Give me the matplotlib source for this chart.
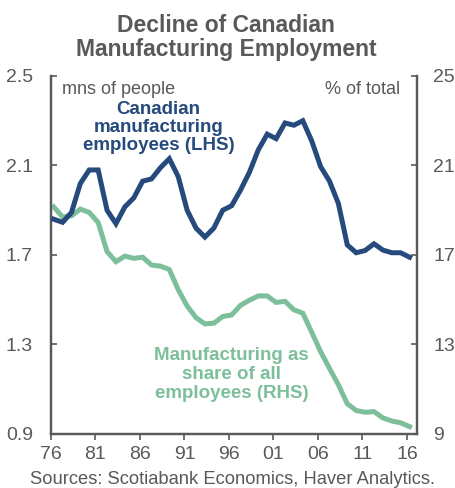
import numpy as np
import matplotlib.pyplot as plt

plt.rcParams['font.family'] = ['Liberation Sans', 'DejaVu Sans']

grey = '#595959'
navy = '#264a7c'
green = '#7dbf9b'

years = np.arange(1976, 2017)

# Canadian manufacturing employees, millions (LHS)
mfg_emp = [1.86, 1.846, 1.89, 2.02, 2.08, 2.08, 1.90, 1.84, 1.915, 1.955,
           2.03, 2.04, 2.09, 2.13, 2.05, 1.90, 1.82, 1.78, 1.82, 1.90,
           1.92, 1.99, 2.07, 2.17, 2.24, 2.22, 2.29, 2.28, 2.30, 2.21,
           2.095, 2.03, 1.93, 1.745, 1.71, 1.72, 1.75, 1.722, 1.71, 1.71,
           1.69]

# Manufacturing as % of all employees (RHS)
mfg_share = [19.15, 18.7, 18.75, 19.05, 18.9, 18.45, 17.15, 16.7, 16.95, 16.85,
             16.9, 16.55, 16.5, 16.35, 15.45, 14.72, 14.2, 13.92, 13.95, 14.25,
             14.32, 14.75, 14.98, 15.17, 15.17, 14.88, 14.93, 14.55, 14.4, 13.55,
             12.68, 11.93, 11.2, 10.35, 10.05, 9.97, 10.0, 9.72, 9.58, 9.5,
             9.33]

tick_years = np.arange(1976, 2017, 5)
tick_labels = ['%02d' % (y % 100) for y in tick_years]

# annual values sit a little past the year tick
x = years + 0.3

fig = plt.figure(figsize=(4.55, 4.88), dpi=100)
ax = fig.add_axes([0.1121, 0.1107, 0.8037, 0.7336])
ax2 = ax.twinx()

ax.plot(x, mfg_emp, color=navy, lw=3.6, solid_joinstyle='miter', zorder=3)
ax2.plot(x, mfg_share, color=green, lw=3.6, solid_joinstyle='miter', zorder=3)

ax.set_xlim(1976, 2017.1)
ax.set_ylim(0.9, 2.5)
ax2.set_ylim(9, 25)
ax.set_yticks([0.9, 1.3, 1.7, 2.1, 2.5])
ax2.set_yticks([9, 13, 17, 21, 25])
ax.set_xticks(tick_years)
ax.set_xticklabels(tick_labels)

for a in (ax, ax2):
    a.spines['top'].set_visible(False)
    for s in ('left', 'right', 'bottom'):
        a.spines[s].set_color(grey)
        a.spines[s].set_linewidth(1.6)
    a.tick_params(colors=grey, labelsize=14, width=1.2)
ax.tick_params(axis='y', direction='in', length=4, pad=13)
ax2.tick_params(axis='y', direction='in', length=4, pad=12)
ax.tick_params(axis='x', direction='out', length=4, pad=5)
ax.set_zorder(ax2.get_zorder() + 1)
ax.patch.set_visible(False)

ax.text(0.03, 0.985, 'mns of people', transform=ax.transAxes, color=grey,
        fontsize=13, ha='left', va='top')
ax.text(0.955, 0.985, '% of total', transform=ax.transAxes, color=grey,
        fontsize=13, ha='right', va='top')
ax.text(1988.1, 2.268, 'Canadian\nmanufacturing\nemployees (LHS)', color=navy,
        fontsize=13.5, fontweight='bold', ha='center', va='center', linespacing=1.08)
ax2.text(1996.3, 11.64, 'Manufacturing as\nshare of all\nemployees (RHS)', color=green,
         fontsize=13.5, fontweight='bold', ha='center', va='center', linespacing=1.15)

fig.text(0.497, 0.923, 'Decline of Canadian\nManufacturing Employment', color=grey,
         fontsize=16.5, fontweight='bold', ha='center', va='center', linespacing=1.08)
fig.text(0.512, 0.008, 'Sources: Scotiabank Economics, Haver Analytics.', color=grey,
         fontsize=13.2, ha='center', va='baseline')

fig.savefig('out.png', dpi=100)
